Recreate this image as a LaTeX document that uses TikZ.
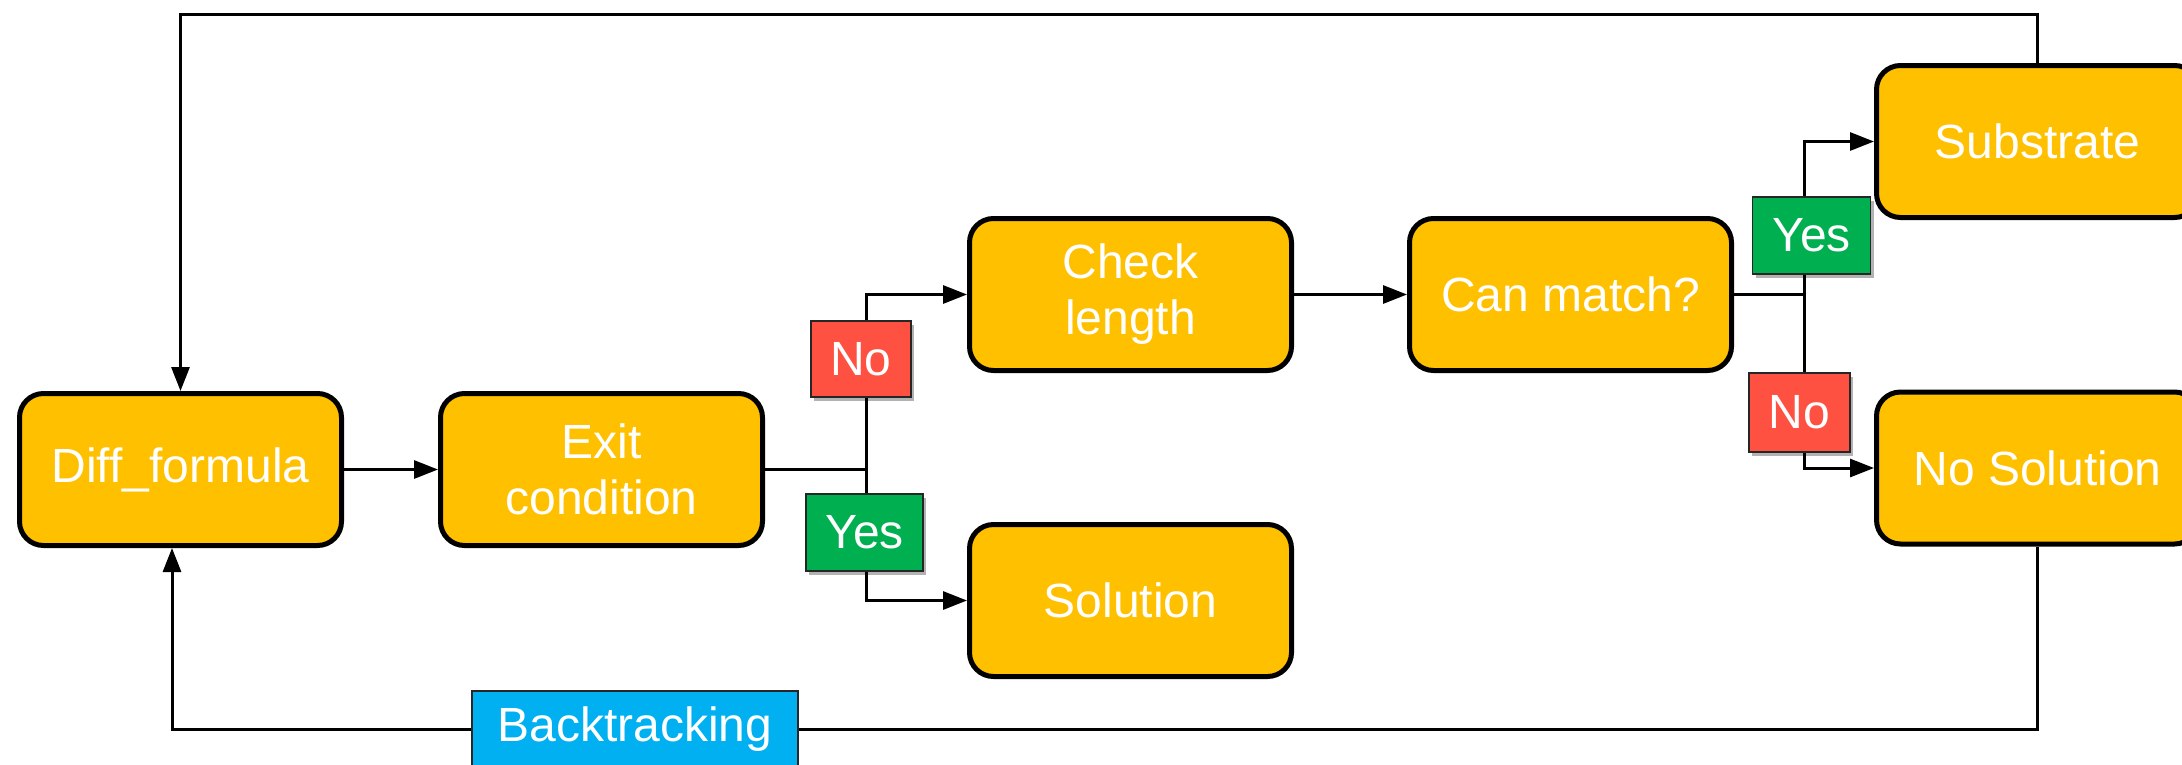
\documentclass[tikz,border=0pt]{standalone}
\usepackage{fontspec}
\setmainfont{Liberation Sans}
\usetikzlibrary{arrows.meta,shadows,calc}
\definecolor{boxgold}{HTML}{FFC000}
\definecolor{yesgreen}{HTML}{00B050}
\definecolor{nored}{HTML}{FF5142}
\definecolor{backblue}{HTML}{00B0F0}
\tikzset{
  stepbox/.style={draw=black, line width=5pt, fill=boxgold, rounded corners=24pt,
    minimum width=322pt, minimum height=152pt, text=white, align=center,
    font=\fontsize{48}{56}\selectfont, inner sep=0pt},
  tag/.style={draw=black!85, line width=1.5pt, text=white, inner sep=0pt,
    font=\fontsize{48}{56}\selectfont,
    drop shadow={shadow xshift=3pt, shadow yshift=-4pt, opacity=0.3, fill=black}},
  yestag/.style={tag, fill=yesgreen},
  notag/.style={tag, fill=nored},
  wire/.style={line width=3pt, draw=black},
  flow/.style={wire, -{Triangle[length=24pt, width=18pt]}},
}
\begin{document}
\begin{tikzpicture}[x=1pt, y=-1pt]
  \useasboundingbox (0,0) rectangle (2182,764);
  \clip (0,0) rectangle (2182,764);

  % process boxes
  \node[stepbox] (diff)  at (180.5,469.5)  {Diff\_formula};
  \node[stepbox] (exit)  at (601.5,469.5)  {Exit\\condition};
  \node[stepbox] (check) at (1130.5,294.5) {Check\\length};
  \node[stepbox] (sol)   at (1130.5,600.5) {Solution};
  \node[stepbox] (can)   at (1570.5,294.5) {Can match?};
  \node[stepbox] (sub)   at (2037.5,141.5) {Substrate};
  \node[stepbox] (nosol) at (2037.5,468)   {No Solution};

  % routing points
  \coordinate (top) at (0,14);
  \coordinate (bot) at (0,729);
  \coordinate (fk1) at (866,469.5);
  \coordinate (fk2) at (1804,294.5);

  % main flow
  \draw[flow] (diff) -- (exit);
  \draw[wire] (exit.east) -- (fk1);
  \draw[flow] (fk1) |- (check.west);
  \draw[flow] (fk1) |- (sol.west);
  \draw[flow] (check) -- (can);
  \draw[wire] (can.east) -- (fk2);
  \draw[flow] (fk2) |- (sub.west);
  \draw[flow] (fk2) |- (nosol.west);

  % loop back from Substrate
  \draw[flow] (sub.north) -- (sub.north |- top) -| (diff.north);
  % backtracking from No Solution
  \draw[flow] (nosol.south) -- (nosol.south |- bot) -| ([xshift=-8.5pt]diff.south);

  % branch labels
  \node[notag,  minimum width=100pt, minimum height=76pt] (no1)  at (861,359)      {No};
  \node[yestag, minimum width=117pt, minimum height=77pt] (yes1) at (864.5,532.5)  {Yes};
  \node[yestag, minimum width=118pt, minimum height=77pt] (yes2) at (1811.5,235.5) {Yes};
  \node[notag,  minimum width=101pt, minimum height=79pt] (no2)  at (1799.5,412.5) {No};
  \node[draw=black!85, line width=1.5pt, fill=backblue, text=white,
        font=\fontsize{48}{56}\selectfont, inner sep=0pt,
        minimum width=326pt, minimum height=76pt] (back) at (635,729) {Backtracking};
\end{tikzpicture}
\end{document}
